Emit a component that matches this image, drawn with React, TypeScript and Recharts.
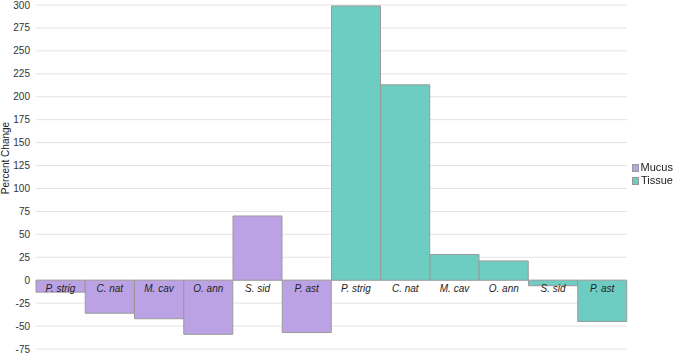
import React from 'react';
import { BarChart, Bar, XAxis, YAxis, CartesianGrid, Legend, LabelList } from 'recharts';

const species = ['P. strig', 'C. nat', 'M. cav', 'O. ann', 'S. sid', 'P. ast', 'P. strig', 'C. nat', 'M. cav', 'O. ann', 'S. sid', 'P. ast'];
const mucus = [-13, -36, -42, -59, 70, -57, null, null, null, null, null, null];
const tissue = [null, null, null, null, null, null, 299, 213, 28, 21, -6, -45];
const yTicks = [-75, -50, -25, 0, 25, 50, 75, 100, 125, 150, 175, 200, 225, 250, 275, 300];

const MUCUS_COLOR = '#bba2e4';
const TISSUE_COLOR = '#6ecdc3';

const chartData = species.map((name, i) => ({
    idx: i,
    name,
    Mucus: mucus[i],
    Tissue: tissue[i],
}));

const FONT = '"Liberation Sans", Arial, sans-serif';

// species label sits just under the zero line, whichever way the bar points
const ZeroLabel = (props: any) => {
    const { x, y, width, height, index, value } = props;
    if (value === null || value === undefined) return null;
    const v = Array.isArray(value) ? value[1] - value[0] : value;
    const zero = v >= 0 ? y + height : (height > 0 ? y : y + height);
    return (
        <text x={x + width / 2} y={zero + 12} textAnchor="middle" fontSize={10} fontStyle="italic" fill="#222" fontFamily={FONT}>
            {species[index]}
        </text>
    );
};

const AxisTitle = (props: any) => {
    const { viewBox } = props;
    const cx = 9;
    const cy = viewBox.y + viewBox.height / 2 - 19;
    return (
        <text x={cx} y={cy} transform={`rotate(-90, ${cx}, ${cy})`} textAnchor="middle" fontSize={10} fill="#222" fontFamily={FONT}>
            Percent Change
        </text>
    );
};

const LegendBox = () => (
    <div style={{ fontFamily: FONT, fontSize: 11, color: '#222', lineHeight: '13px' }}>
        {[['Mucus', MUCUS_COLOR], ['Tissue', TISSUE_COLOR]].map(([label, color]) => (
            <div key={label} style={{ display: 'flex', alignItems: 'center' }}>
                <span style={{ width: 8, height: 8, background: color, border: '1px solid #999', marginRight: 2, boxSizing: 'border-box' }} />
                {label}
            </div>
        ))}
    </div>
);

export default function App() {
    return (
        <div style={{ position: 'fixed', left: 0, top: 0, background: '#fff' }}>
            <BarChart
                width={673}
                height={353}
                data={chartData}
                margin={{ top: 5, right: 5, left: 0, bottom: 4 }}
                barCategoryGap={0}
                barGap={0}
                stackOffset="sign"
            >
                <CartesianGrid horizontal vertical={false} stroke="#e3e3e3" strokeWidth={1} />
                <XAxis dataKey="idx" hide />
                <YAxis
                    domain={[-75, 300]}
                    ticks={yTicks}
                    interval={0}
                    width={36}
                    axisLine={false}
                    tickLine={false}
                    tickSize={4}
                    tickMargin={2}
                    tick={{ fontSize: 10, fill: '#333', fontFamily: FONT }}
                    label={<AxisTitle />}
                />
                <Legend
                    layout="vertical"
                    align="right"
                    verticalAlign="top"
                    content={<LegendBox />}
                    wrapperStyle={{ left: 632, top: 161, width: 41 }}
                />
                <Bar dataKey="Mucus" stackId="a" fill={MUCUS_COLOR} stroke="#9a9a9a" strokeWidth={1} isAnimationActive={false}>
                    <LabelList dataKey="Mucus" content={<ZeroLabel />} />
                </Bar>
                <Bar dataKey="Tissue" stackId="a" fill={TISSUE_COLOR} stroke="#9a9a9a" strokeWidth={1} isAnimationActive={false}>
                    <LabelList dataKey="Tissue" content={<ZeroLabel />} />
                </Bar>
            </BarChart>
        </div>
    );
}
